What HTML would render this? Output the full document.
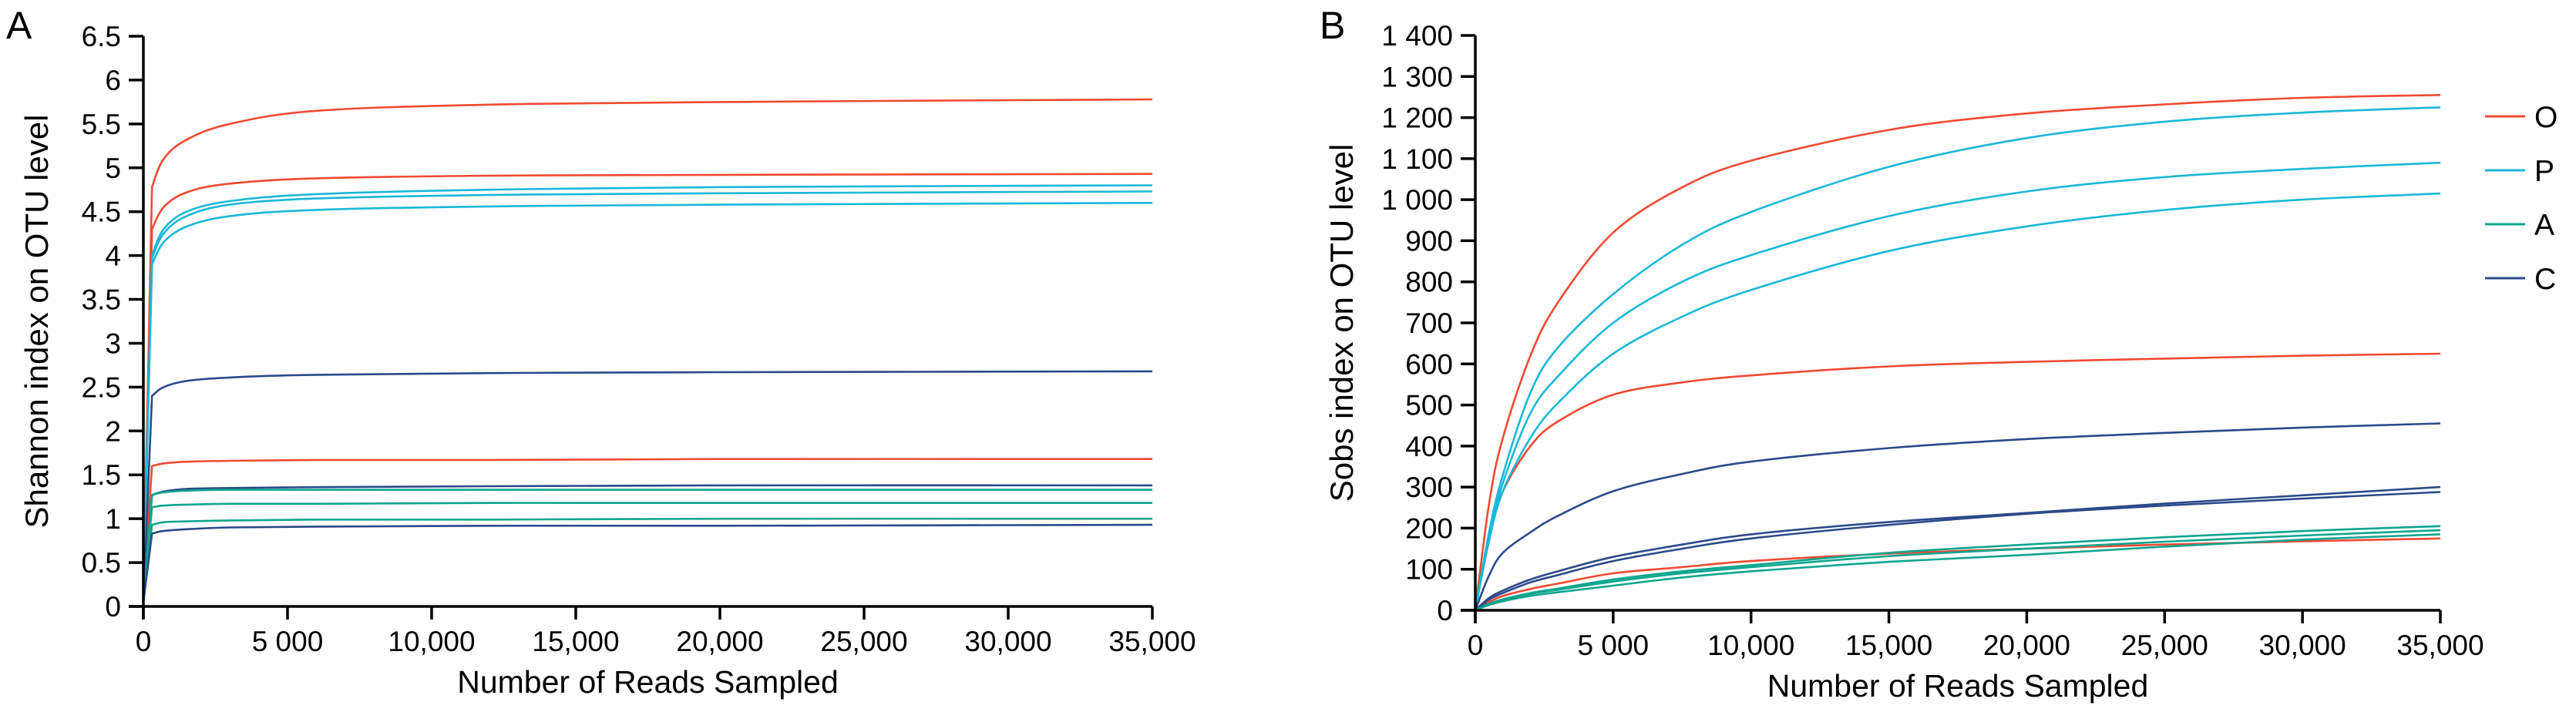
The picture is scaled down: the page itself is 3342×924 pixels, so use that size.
<!DOCTYPE html>
<html><head><meta charset="utf-8"><style>
html,body{margin:0;padding:0;background:#fff;}
svg{display:block;font-family:"Liberation Sans",Arial,sans-serif;}
</style></head><body>
<svg id="fig" width="3342" height="924" viewBox="0 0 3342 924" xmlns="http://www.w3.org/2000/svg">
<text x="8" y="50" font-size="50">A</text>
<text x="1712" y="50" font-size="50">B</text>
<g id="chartA"></g>
<g id="chartB"></g>
<g id="legend"></g>
</svg>
<script>
const groupNames = ["O","P","A","C"];
const groupColors = ["#f04a32","#1ab8d8","#0ea58f","#2b4a8a"];
// Chart A: Shannon
const xsA = [0,300,700,1500,3000,6000,12000,20000,35000];
const seriesA = [
 [0.1,4.78,5.1,5.32,5.5,5.65,5.72,5.75,5.78],
 [0.1,4.3,4.55,4.72,4.82,4.88,4.91,4.92,4.93],
 [0.1,1.6,1.63,1.65,1.66,1.67,1.67,1.68,1.68],
 [0.1,4.0,4.3,4.5,4.62,4.7,4.75,4.78,4.8],
 [0.1,3.97,4.25,4.45,4.58,4.65,4.69,4.71,4.73],
 [0.1,3.9,4.15,4.33,4.45,4.52,4.56,4.58,4.6],
 [0.05,2.4,2.5,2.57,2.61,2.64,2.66,2.67,2.68],
 [0.05,1.27,1.31,1.34,1.35,1.36,1.37,1.38,1.38],
 [0.05,1.27,1.3,1.32,1.33,1.33,1.33,1.33,1.33],
 [0.05,1.13,1.15,1.16,1.17,1.17,1.18,1.18,1.18],
 [0.05,0.93,0.96,0.97,0.98,0.99,0.99,1.0,1.0],
 [0.05,0.83,0.86,0.88,0.9,0.91,0.92,0.92,0.93]
];
const colorIdxA = [0,0,0,1,1,1,3,3,2,2,2,3];
const yTicksA = ["0","0.5","1","1.5","2","2.5","3","3.5","4","4.5","5","5.5","6","6.5"];
const yTickValsA = [0,0.5,1,1.5,2,2.5,3,3.5,4,4.5,5,5.5,6,6.5];
const xTickVals = [0,5000,10000,15000,20000,25000,30000,35000];
const xTickLabels = ["0","5 000","10,000","15,000","20,000","25,000","30,000","35,000"];
// Chart B: Sobs
const xsB = [0,500,1000,2000,3000,5000,7500,10000,15000,20000,25000,30000,35000];
const seriesB = [
 [0,260,420,620,750,920,1030,1095,1170,1210,1232,1248,1255],
 [0,180,290,400,460,525,555,572,594,605,613,620,625],
 [0,20,35,52,65,90,105,120,138,150,160,168,175],
 [0,190,330,530,640,770,890,970,1080,1150,1190,1212,1225],
 [0,180,310,480,570,700,800,865,960,1020,1055,1075,1090],
 [0,170,290,420,505,625,715,780,875,935,975,1000,1015],
 [0,85,140,190,230,290,332,362,395,417,432,445,455],
 [0,30,48,75,95,130,160,185,215,237,260,280,300],
 [0,26,42,68,86,120,150,175,208,235,255,272,288],
 [0,16,27,42,53,75,95,110,140,160,178,193,205],
 [0,15,25,40,50,70,90,105,132,150,167,182,195],
 [0,13,22,35,44,60,80,95,118,135,155,172,185]
];
const colorIdxB = [0,0,0,1,1,1,3,3,3,2,2,2];
const yTicksB = ["0","100","200","300","400","500","600","700","800","900","1 000","1 100","1 200","1 300","1 400"];
const yTickValsB = [0,100,200,300,400,500,600,700,800,900,1000,1100,1200,1300,1400];

const NS="http://www.w3.org/2000/svg";
function mk(tag,attrs,parent){const e=document.createElementNS(NS,tag);for(const k in attrs)e.setAttribute(k,attrs[k]);parent.appendChild(e);return e;}

function smoothPath(pts,straightFirst){
  let d="M"+pts[0][0].toFixed(1)+","+pts[0][1].toFixed(1);
  const start=straightFirst?1:0;
  if(straightFirst) d+="L"+pts[1][0].toFixed(1)+","+pts[1][1].toFixed(1);
  for(let i=start;i<pts.length-1;i++){
    const p0=pts[Math.max(i-1,start)],p1=pts[i],p2=pts[i+1],p3=pts[Math.min(i+2,pts.length-1)];
    const c1x=p1[0]+(p2[0]-p0[0])/6,c1y=p1[1]+(p2[1]-p0[1])/6;
    const c2x=p2[0]-(p3[0]-p1[0])/6,c2y=p2[1]-(p3[1]-p1[1])/6;
    d+="C"+c1x.toFixed(1)+","+c1y.toFixed(1)+" "+c2x.toFixed(1)+","+c2y.toFixed(1)+" "+p2[0].toFixed(1)+","+p2[1].toFixed(1);
  }
  return d;
}

function drawChart(g,cfg){
  const sx=v=>cfg.x0+(v/35000)*(cfg.x1-cfg.x0);
  const sy=v=>cfg.y0-(v/cfg.ymax)*(cfg.y0-cfg.y1);
  cfg.series.forEach((s,i)=>{
    const pts=s.map((v,j)=>[sx(cfg.xs[j]),sy(v)]);
    const p=mk("path",{d:smoothPath(pts,cfg.straightFirst),fill:"none",stroke:groupColors[cfg.cidx[i]],"stroke-width":2.6,"stroke-linejoin":"round"},g);
    
    
  });
  const ya=mk("line",{x1:cfg.x0,y1:sy(cfg.ymax),x2:cfg.x0,y2:cfg.y0+17,stroke:"#000","stroke-width":3.5},g);
  
  
  const xa=mk("line",{x1:cfg.x0-19,y1:cfg.y0,x2:sx(35000),y2:cfg.y0,stroke:"#000","stroke-width":3.5},g);
  
  
  cfg.yvals.forEach((v,i)=>{
    const t=mk("line",{x1:cfg.x0-19,y1:sy(v),x2:cfg.x0,y2:sy(v),stroke:"#000","stroke-width":3.5},g);
    
    
    const l=mk("text",{x:cfg.x0-29,y:sy(v)+13,"font-size":37,"text-anchor":"end"},g);
    l.textContent=cfg.ylabels[i];
    
    
  });
  xTickVals.forEach((v,i)=>{
    const t=mk("line",{x1:sx(v),y1:cfg.y0,x2:sx(v),y2:cfg.y0+17,stroke:"#000","stroke-width":3.5},g);
    
    
    const l=mk("text",{x:sx(v),y:cfg.y0+58,"font-size":37,"text-anchor":"middle"},g);
    l.textContent=xTickLabels[i];
    
    
  });
  const xt=mk("text",{x:(cfg.x0+sx(35000))/2,y:cfg.y0+112,"font-size":41,"text-anchor":"middle"},g);
  xt.textContent="Number of Reads Sampled";
  
  
  const yt=mk("text",{x:0,y:0,"font-size":42,"text-anchor":"middle",transform:"translate("+cfg.ytx+","+((cfg.y0+sy(cfg.ymax))/2)+") rotate(-90)"},g);
  yt.textContent=cfg.ytitle;
  
  
}
drawChart(document.getElementById("chartA"),{x0:186,x1:1495,y0:787,y1:47,ymax:6.5,xs:xsA,series:seriesA,cidx:colorIdxA,yvals:yTickValsA,ylabels:yTicksA,ytitle:"Shannon index on OTU level",ytx:62,straightFirst:true});
drawChart(document.getElementById("chartB"),{x0:1914,x1:3166,y0:792,y1:46,ymax:1400,xs:xsB,series:seriesB,cidx:colorIdxB,yvals:yTickValsB,ylabels:yTicksB,ytitle:"Sobs index on OTU level",ytx:1755,straightFirst:false});

const lg=document.getElementById("legend");
groupNames.forEach((n,i)=>{
  const y=151+i*70;
  const l=mk("line",{x1:3224,y1:y,x2:3276,y2:y,stroke:groupColors[i],"stroke-width":3},lg);
  
  
  const t=mk("text",{x:3288,y:y+14,"font-size":39},lg);
  t.textContent=n;
  
  
});
</script>
</body></html>
